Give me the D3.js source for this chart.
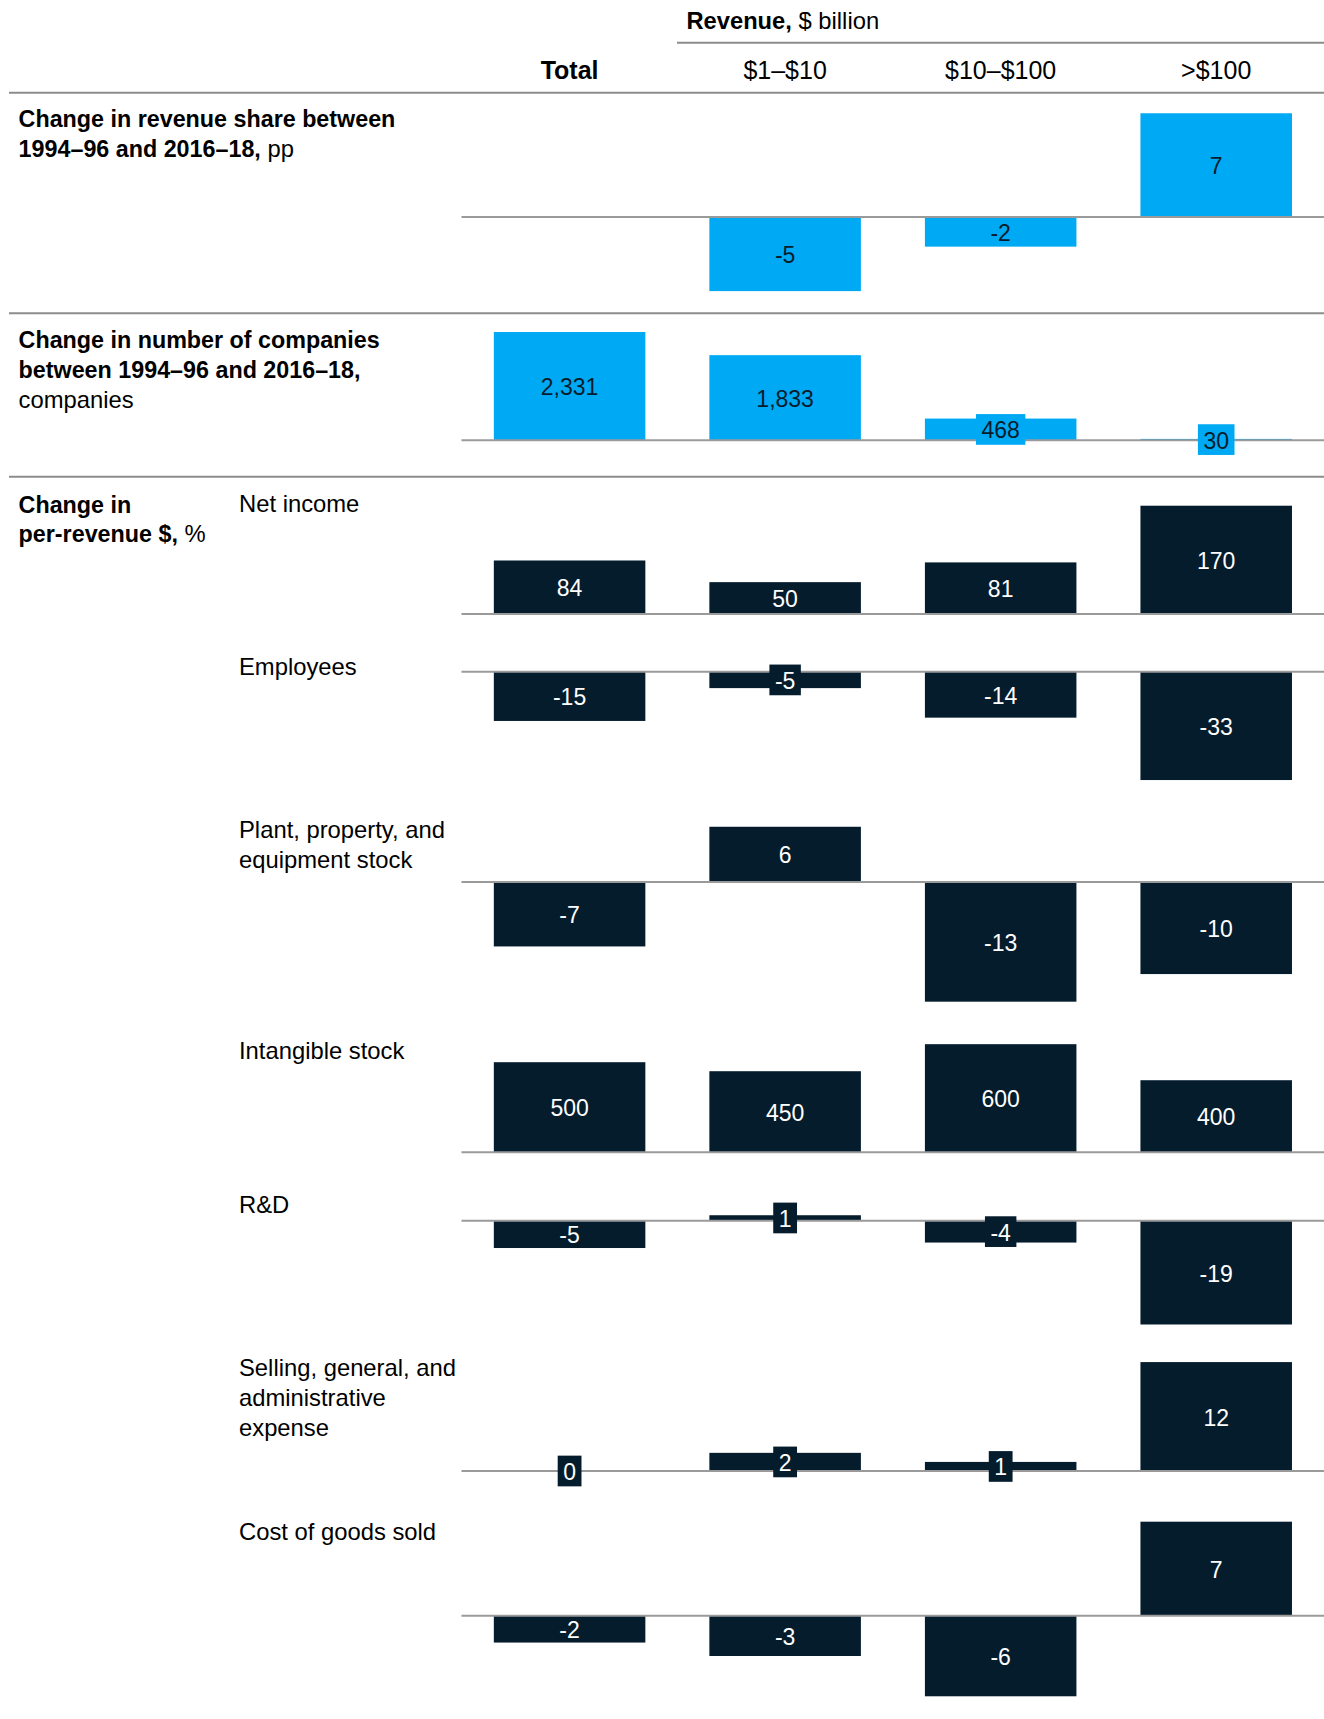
<!DOCTYPE html>
<html>
<head>
<meta charset="utf-8">
<script src="https://cdn.jsdelivr.net/npm/d3@7"></script>
<style>
  html, body { margin: 0; padding: 0; background: #ffffff; }
  svg { display: block; }
  text { font-family: "Liberation Sans", Arial, "Helvetica Neue", sans-serif; }
</style>
</head>
<body>
<svg id="chart"></svg>
<script>
// ---------------- DATA ----------------
const categories = ["Total", "$1–$10", "$10–$100", ">$100"];
const revenueShareChange = [null, -5, -2, 7];          // pp
const companyCountChange = [2331, 1833, 468, 30];      // companies
const netIncome   = [84, 50, 81, 170];
const employees   = [-15, -5, -14, -33];
const ppeStock    = [-7, 6, -13, -10];
const intangible  = [500, 450, 600, 400];
const rnd         = [-5, 1, -4, -19];
const sga         = [0, 2, 1, 12];
const cogs        = [-2, -3, -6, 7];
const metricLabels = [
  ["Net income"],
  ["Employees"],
  ["Plant, property, and", "equipment stock"],
  ["Intangible stock"],
  ["R&D"],
  ["Selling, general, and", "administrative", "expense"],
  ["Cost of goods sold"]
];

// ---------------- LAYOUT / STYLE ----------------
const W = 1324, H = 1719;
const BLUE = "#00a9f4", NAVY = "#051c2c";
const FS = 23, FS_REG = 23.8, FS_BOLD = 23.3, FS_COL = 25;

const svg = d3.select("#chart").attr("width", W).attr("height", H);
svg.append("rect").attr("width", W).attr("height", H).attr("fill", "#fff");

const x = d3.scaleBand().domain(categories)
  .range([461.5, 1324.3]).paddingInner(0.297).paddingOuter(0.15);

const fmt = d3.formatLocale({decimal: ".", thousands: ",", grouping: [3], currency: ["$", ""], minus: "-"}).format(",");

// rows: data + layout (baseline y, px per unit)
const rows = [
  {values: revenueShareChange, base: 217,    k: 14.82,   fill: BLUE, ink: NAVY},
  {values: companyCountChange, base: 440.3,  k: 0.04645, fill: BLUE, ink: NAVY},
  {values: netIncome,          base: 614,    k: 0.637,   fill: NAVY, ink: "#fff", label: 0, labelY: [512]},
  {values: employees,          base: 671.7,  k: 3.283,   fill: NAVY, ink: "#fff", label: 1, labelY: [675]},
  {values: ppeStock,           base: 882,    k: 9.206,   fill: NAVY, ink: "#fff", label: 2, labelY: [838, 868]},
  {values: intangible,         base: 1152.3, k: 0.1802,  fill: NAVY, ink: "#fff", label: 3, labelY: [1059]},
  {values: rnd,                base: 1220.7, k: 5.463,   fill: NAVY, ink: "#fff", label: 4, labelY: [1213]},
  {values: sga,                base: 1471,   k: 9.076,   fill: NAVY, ink: "#fff", label: 5, labelY: [1376, 1406, 1436]},
  {values: cogs,               base: 1615.7, k: 13.43,   fill: NAVY, ink: "#fff", label: 6, labelY: [1540]}
];

// ---------------- HEADER ----------------
const head = svg.append("text").attr("x", 686.5).attr("y", 28.5).attr("fill", "#000");
head.append("tspan").attr("font-weight", "bold").attr("font-size", FS_BOLD + 0.4).text("Revenue,");
head.append("tspan").attr("font-size", FS_REG).text(" $ billion");

svg.append("line").attr("x1", 677).attr("x2", W).attr("y1", 42.7).attr("y2", 42.7)
  .attr("stroke", "#8c8c8c").attr("stroke-width", 2);

svg.selectAll("text.colhead").data(categories).join("text")
  .attr("class", "colhead")
  .attr("x", d => x(d) + x.bandwidth() / 2).attr("y", 78.5)
  .attr("text-anchor", "middle").attr("font-size", FS_COL).attr("fill", "#000")
  .attr("font-weight", (d, i) => i === 0 ? "bold" : "normal")
  .text(d => d);

// section rules
[92.7, 313.3, 476.7].forEach(y => {
  svg.append("line").attr("x1", 9).attr("x2", W).attr("y1", y).attr("y2", y)
    .attr("stroke", "#8c8c8c").attr("stroke-width", 2);
});

// ---------------- SECTION LABELS ----------------
function richLines(x0, ys, lines) {
  lines.forEach((parts, i) => {
    const t = svg.append("text").attr("x", x0).attr("y", ys[i]).attr("fill", "#000");
    parts.forEach(p => t.append("tspan")
      .attr("font-weight", p.b ? "bold" : "normal")
      .attr("font-size", p.b ? FS_BOLD : FS_REG)
      .text(p.t));
  });
}
richLines(18.6, [126.5, 156.5], [
  [{t: "Change in revenue share between", b: true}],
  [{t: "1994–96 and 2016–18,", b: true}, {t: " pp"}]
]);
richLines(18.6, [347.5, 377.5, 407.5], [
  [{t: "Change in number of companies", b: true}],
  [{t: "between 1994–96 and 2016–18,", b: true}],
  [{t: "companies"}]
]);
richLines(18.6, [512.5, 541.5], [
  [{t: "Change in", b: true}],
  [{t: "per-revenue $,", b: true}, {t: " %"}]
]);

// ---------------- ROWS ----------------
rows.forEach(r => {
  const y = d3.scaleLinear().domain([0, 1]).range([r.base, r.base - r.k]);
  const data = r.values.map((v, i) => ({v, c: categories[i]})).filter(d => d.v !== null);
  const g = svg.append("g");

  g.selectAll("rect.bar").data(data).join("rect")
    .attr("class", "bar")
    .attr("x", d => x(d.c)).attr("width", x.bandwidth())
    .attr("y", d => Math.min(y(d.v), y(0)))
    .attr("height", d => Math.abs(y(d.v) - y(0)))
    .attr("fill", r.fill);

  g.append("line").attr("x1", 461.5).attr("x2", W).attr("y1", r.base).attr("y2", r.base)
    .attr("stroke", "#9a9a9a").attr("stroke-width", 2);

  data.forEach(d => {
    const cx = x(d.c) + x.bandwidth() / 2;
    const cy = (y(d.v) + y(0)) / 2;
    const h = Math.abs(y(d.v) - y(0));
    const t = g.append("text")
      .attr("x", cx).attr("y", cy + 9)
      .attr("text-anchor", "middle").attr("font-size", FS)
      .attr("fill", r.ink).text(fmt(d.v));
    if (h < 25) {
      const w = t.node().getComputedTextLength() + 11;
      g.insert("rect", () => t.node())
        .attr("x", cx - w / 2).attr("width", w)
        .attr("y", cy - 15.35).attr("height", 30.7)
        .attr("fill", r.fill);
    }
  });

  if (r.label !== undefined) {
    metricLabels[r.label].forEach((line, i) => {
      svg.append("text").attr("x", 239).attr("y", r.labelY[i])
        .attr("font-size", FS_REG).attr("fill", "#000").text(line);
    });
  }
});
</script>
</body>
</html>
